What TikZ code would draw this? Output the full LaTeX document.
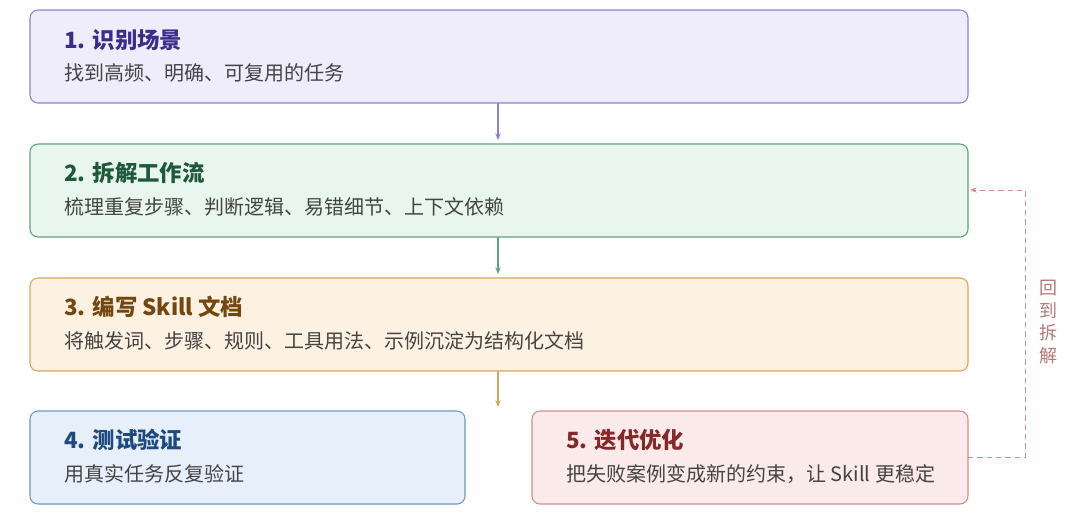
\documentclass[tikz,border=0pt]{standalone}
\usepackage{fontspec}
\setmainfont{Noto Sans CJK SC}
\usetikzlibrary{arrows.meta}
\definecolor{fA}{HTML}{EFECFB}\definecolor{bA}{HTML}{8C82D2}\definecolor{tA}{HTML}{3B2D8A}
\definecolor{fB}{HTML}{E9F6EF}\definecolor{bB}{HTML}{5FA27D}\definecolor{tB}{HTML}{1E5A3A}
\definecolor{fC}{HTML}{FDF1E2}\definecolor{bC}{HTML}{DBA45E}\definecolor{tC}{HTML}{744610}
\definecolor{fD}{HTML}{E7F0FA}\definecolor{bD}{HTML}{6E98CA}\definecolor{tD}{HTML}{1E4A80}
\definecolor{fE}{HTML}{FBEAEA}\definecolor{bE}{HTML}{D68C8C}\definecolor{tE}{HTML}{872828}
\definecolor{sub}{HTML}{444444}
\begin{document}
\begin{tikzpicture}[x=0.75pt,y=-0.75pt,
 box/.style={draw=#1, line width=0.8pt, rounded corners=6pt},
 ttl/.style={anchor=west, inner sep=0pt, font=\fontsize{16.8}{19}\selectfont\bfseries},
 st/.style={anchor=west, inner sep=0pt, text=sub, font=\fontsize{15}{17}\selectfont},
 arr/.style={-{Stealth[length=5pt,width=4pt]}, line width=0.9pt}]
\useasboundingbox (0,0) rectangle (1080,519);
\path[box=bA, fill=fA] (30,10) rectangle (968,103);
\path[box=bB, fill=fB] (30,144) rectangle (968,237);
\path[box=bC, fill=fC] (30,278) rectangle (968,371);
\path[box=bD, fill=fD] (30,411) rectangle (465,504);
\path[box=bE, fill=fE] (532,411) rectangle (968,504);
\node[ttl,text=tA] (t1) at (64,40) {1. 识别场景};
\node[st] (s1) at (64,73) {找到高频、明确、可复用的任务};
\node[ttl,text=tB] (t2) at (64,173) {2. 拆解工作流};
\node[st] (s2) at (64,207) {梳理重复步骤、判断逻辑、易错细节、上下文依赖};
\node[ttl,text=tC] (t3) at (64,307) {3. 编写 Skill 文档};
\node[st] (s3) at (64,341) {将触发词、步骤、规则、工具用法、示例沉淀为结构化文档};
\node[ttl,text=tD] (t4) at (64,440) {4. 测试验证};
\node[st] (s4) at (64,474) {用真实任务反复验证};
\node[ttl,text=tE] (t5) at (566,440) {5. 迭代优化};
\node[st] (s5) at (566,474) {把失败案例变成新的约束，让 Skill 更稳定};
\coordinate (a1) at (498,103); \coordinate (a2) at (498,140);
\coordinate (c1) at (498,237); \coordinate (c2) at (498,274);
\coordinate (d1) at (498,371); \coordinate (d2) at (498,407);
\draw[arr,draw=bA] (a1) -- (a2);
\draw[arr,draw=bB] (c1) -- (c2);
\draw[arr,draw=bC] (d1) -- (d2);
\coordinate (e1) at (968,457); \coordinate (e2) at (970,190);
\draw[arr,draw=bE,dashed,line width=0.7pt,dash pattern=on 4pt off 3pt] (e1) -- (1025,457) -- (1025,190) -- (e2);
\node[text=bE!85!black, align=center, font=\fontsize{13.5}{17}\selectfont] (lbl) at (1048,322) {回\\到\\拆\\解};
\end{tikzpicture}
\end{document}
